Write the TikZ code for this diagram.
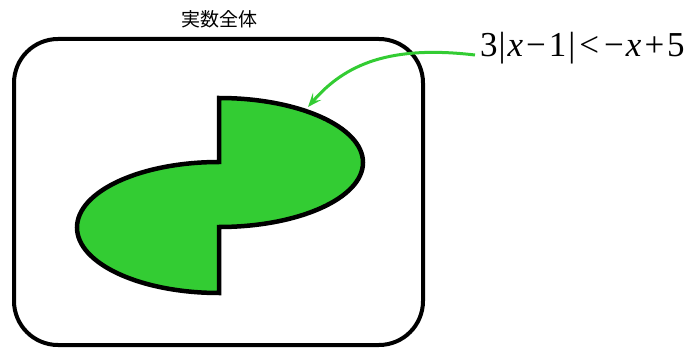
\documentclass[tikz,border=0pt]{standalone}
\usepackage{fontspec}
\newfontfamily\timesfont{Liberation Serif}
\newfontfamily\cjk{Noto Sans CJK JP}
\usetikzlibrary{arrows.meta}
\definecolor{lgreen}{RGB}{51,204,51}
\tikzset{
  frame/.style={line width=4pt, rounded corners=44pt},
  region/.style={line width=4.5pt, fill=lgreen, draw=black, line join=miter},
  pointer/.style={line width=3pt, draw=lgreen, -{Stealth[length=14pt,width=11pt,inset=6pt]}},
  lbl/.style={inner sep=0pt, font=\cjk\fontsize{19}{19}\selectfont},
  formula/.style={inner sep=0pt, font=\timesfont\fontsize{35}{35}\selectfont}
}
\begin{document}
\begin{tikzpicture}[x=1pt,y=1pt]
\useasboundingbox (0,0) rectangle (689,349);
\draw[frame] (14,310) rectangle (423,4);
\node[lbl] (title) at (219,330) {実数全体};
\path[region] (219,251) -- (219,187)
  arc[start angle=90, end angle=270, x radius=142pt, y radius=65.5pt]
  -- (219,122)
  arc[start angle=-90, end angle=90, x radius=144pt, y radius=64.5pt]
  -- cycle;
\node[formula, anchor=base west] (ineq) at (480,292) {3\kern1pt|\kern2pt\textit{x}\kern3pt−\kern3pt1\kern2pt|\kern4pt<\kern5pt−\kern2pt\textit{x}\kern3pt+\kern3pt5};
\coordinate (start) at (475,294);
\coordinate (tip) at (308,242);
\draw[pointer] (start) .. controls (390,304) and (345,285) .. (tip);
\end{tikzpicture}
\end{document}
